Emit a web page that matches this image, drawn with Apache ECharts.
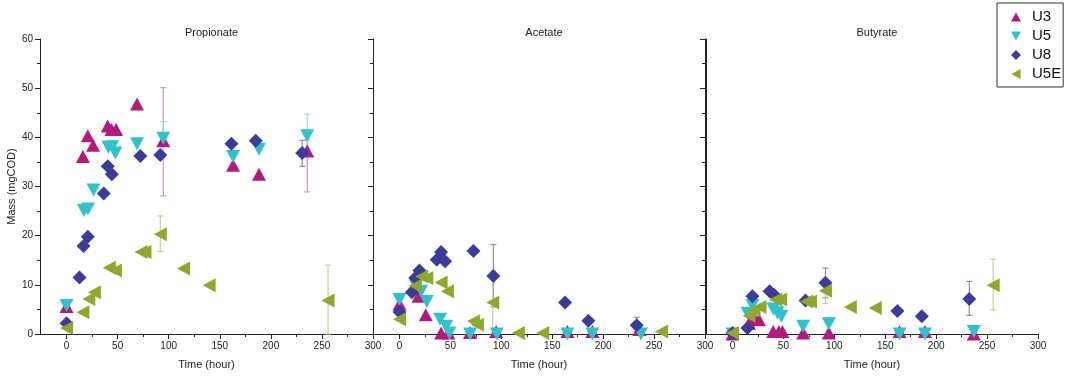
<!DOCTYPE html>
<html><head><meta charset="utf-8">
<script src="https://cdn.jsdelivr.net/npm/echarts@6/dist/echarts.min.js"></script>
<style>html,body{margin:0;padding:0;background:#fff}#c{width:1069px;height:378px}</style>
</head><body><div id="c"></div>
<script>
const panelTitles = ['Propionate', 'Acetate', 'Butyrate'];
const seriesNames = ['U3', 'U5', 'U8', 'U5E'];
const xTickValues = [0, 50, 100, 150, 200, 250, 300];
const xMinorValues = [25, 75, 125, 175, 225, 275];
const xAxisTitle = 'Time (hour)';
const yAxisTitle = 'Mass (mgCOD)';

// Propionate
const propU3 = [[0,5.6],[16,36.1],[20.8,40.3],[26,38.4],[40.3,42.3],[44,41.6],[48.5,41.6],[69,46.8],[94.7,39.3],[163,34.3],[188.4,32.5],[235.6,37.2]];
const propU5 = [[0,5.8],[17,25.1],[21,25.4],[26.4,29.3],[41,38.0],[44.6,38.1],[47.8,36.8],[69,38.7],[94.7,39.8],[163,36.1],[188.4,37.6],[235.6,40.3]];
const propU8 = [[0,2.2],[12.7,11.5],[16.6,17.9],[20.8,19.8],[36.4,28.6],[40.3,34.1],[44.3,32.5],[72.2,36.2],[91.8,36.4],[161.4,38.7],[185.2,39.3],[230.7,36.8]];
const propU5E = [[0,1.2],[16,4.4],[21.8,7.1],[27.3,8.5],[41.9,13.5],[47.8,12.9],[72.9,16.7],[76.8,16.7],[91.8,20.3],[114.5,13.3],[139.6,9.9],[256,6.8]];
// Acetate
const aceU3 = [[0,6.1],[18.6,7.7],[25.8,3.9],[40.9,0.2],[48,0.2],[69.3,0.3],[94.9,0.5],[164.9,0.5],[189.4,0.5],[235.6,0.9]];
const aceU5 = [[0,7.0],[16.4,9.7],[21.3,8.7],[26.8,6.6],[39.9,3.0],[45.8,1.6],[49,0.2],[69.3,0],[95.5,0],[164.9,0],[189.4,0],[237.1,0]];
const aceU8 = [[0,4.5],[12.1,8.5],[15.4,11.4],[19.6,12.9],[36.6,15.1],[40.9,16.7],[44.8,14.8],[72.6,16.9],[92.2,11.8],[162.6,6.4],[185.5,2.7],[232.9,1.8]];
const aceU5E = [[0,3.0],[15.4,9.8],[21.9,11.7],[26.8,11.4],[40.9,10.5],[47.1,8.7],[72.6,2.6],[76.5,1.9],[91.6,6.4],[116.8,0.2],[140.7,0.2],[257.4,0.5]];
// Butyrate
const butU3 = [[0,0],[16.3,2.2],[22,3.0],[26,2.9],[40,0.5],[45.6,0.5],[49,0.5],[69.4,0.2],[94.6,0.2],[164,0.5],[189,0.5],[237,0]];
const butU5 = [[0,0],[14.7,4.2],[19.6,5.8],[40.1,5.1],[44,4.3],[48,3.6],[69.4,1.6],[94.6,2.1],[164,0],[189,0],[237,0.5]];
const butU8 = [[0,0.2],[14.7,1.2],[19.6,7.7],[36.5,8.7],[40.8,8.0],[71.7,6.8],[91.3,10.4],[162,4.7],[185.9,3.6],[232.5,7.1]];
const butU5E = [[0,0.2],[16.3,3.7],[21.2,4.9],[27,5.5],[42.4,7.0],[47.3,7.0],[72.7,6.6],[76.6,6.6],[91.3,8.8],[115.7,5.5],[140.2,5.3],[256,9.9]];

// error bars: [panel, seriesIndex, x, low, high]
const errorBars = [
  [0,0,94.7,28.1,50.1],[0,1,94.7,36.5,43.2],[0,0,235.6,28.9,39.5],[0,1,235.6,37.0,44.7],[0,2,230.7,34.1,39.4],
  [0,3,91.8,16.8,24.0],[0,3,256,0,14.0],[0,0,0,5.0,6.8],[0,1,0,5.0,7.0],
  [1,2,92.2,5.5,18.2],[1,3,91.6,0,12.8],[1,2,232.9,0.5,3.4],
  [2,2,91.3,7.4,13.4],[2,3,91.3,6.2,11.0],[2,1,94.6,1.0,3.3],[2,2,232.5,3.8,10.7],[2,3,256,4.9,15.2]
];

const panelData = [
  [propU3, propU5, propU8, propU5E],
  [aceU3, aceU5, aceU8, aceU5E],
  [butU3, butU5, butU8, butU5E]
];

const colors = ['#B5197E', '#2EC3CC', '#3B3B9C', '#8FA82B'];
const errColors = ['#D98FC0', '#8FDCE2', '#8C8CC4', '#C7D38C'];
const symbols = ['path://M5,0L10,9L0,9Z', 'path://M0,0L10,0L5,9Z', 'diamond', 'path://M0,5L9,0L9,10Z'];
const sizes = [[14, 13], [14, 13], 14, [13, 14]];

const gridLefts = [40, 373, 706];
const gridWidths = [333, 332, 332];
const XMIN = -26, XMAX = 300;

const chart = echarts.init(document.getElementById('c'));
const grids = [], xAxes = [], yAxes = [], series = [], titles = [];
const FONT = 'Liberation Sans, Arial, sans-serif';
const labelFont = {fontFamily: FONT, fontSize: 10, color: '#222'};

for (let p = 0; p < 3; p++) {
  grids.push({left: gridLefts[p], width: gridWidths[p], top: 39, height: 295, containLabel: false});
  titles.push({text: panelTitles[p], left: gridLefts[p] + gridWidths[p] / 2, top: 22, textAlign: 'center',
    textStyle: {fontFamily: FONT, fontSize: 11, fontWeight: 'normal', color: '#222'}});
  xAxes.push({type: 'value', gridIndex: p, min: XMIN, max: XMAX, position: 'bottom',
    axisLine: {show: true, onZero: false, lineStyle: {color: '#222', width: 1}},
    axisTick: {show: true, length: 5, customValues: xTickValues, lineStyle: {color: '#222'}},
    axisLabel: {show: true, customValues: xTickValues, margin: 7, ...labelFont},
    splitLine: {show: false},
    name: xAxisTitle, nameLocation: 'middle', nameGap: 25,
    nameTextStyle: {fontFamily: FONT, fontSize: 11, color: '#222'}});
  xAxes.push({type: 'value', gridIndex: p, min: XMIN, max: XMAX, position: 'bottom',
    axisLine: {show: false, onZero: false},
    axisTick: {show: true, length: 3, customValues: xMinorValues, lineStyle: {color: '#222'}},
    axisLabel: {show: false}, splitLine: {show: false}});
  yAxes.push({type: 'value', gridIndex: p, min: 0, max: 60, interval: 10, position: 'left',
    axisLine: {show: true, onZero: false, lineStyle: {color: '#222', width: 1}},
    axisTick: {show: true, length: 5, lineStyle: {color: '#222'}},
    minorTick: {show: true, splitNumber: 2, length: 3, lineStyle: {color: '#222'}},
    axisLabel: {show: p === 0, margin: 7, ...labelFont},
    splitLine: {show: false},
    name: p === 0 ? yAxisTitle : '', nameLocation: 'middle', nameGap: 23, nameRotate: 90,
    nameTextStyle: {fontFamily: FONT, fontSize: 11, color: '#222'}});
}
for (let p = 0; p < 2; p++) {
  yAxes.push({type: 'value', gridIndex: p, min: 0, max: 60, interval: 10, position: 'right',
    axisLine: {show: true, onZero: false, lineStyle: {color: '#222', width: 1}},
    axisTick: {show: true, inside: true, length: 5, lineStyle: {color: '#222'}},
    minorTick: {show: true, splitNumber: 2, length: 3, lineStyle: {color: '#222'}},
    axisLabel: {show: false}, splitLine: {show: false}});
}

for (let p = 0; p < 3; p++) {
  const eb = errorBars.filter(e => e[0] === p).map(e => [e[2], e[3], e[4], e[1]]);
  series.push({type: 'custom', xAxisIndex: p * 2, yAxisIndex: p, z: 1, silent: true,
    data: eb,
    renderItem: function (params, api) {
      const x = api.value(0), lo = api.value(1), hi = api.value(2), si = api.value(3);
      const pLo = api.coord([x, lo]), pHi = api.coord([x, hi]);
      const c = errColors[si];
      const w = 3;
      return {type: 'group', children: [
        {type: 'line', shape: {x1: pLo[0], y1: pLo[1], x2: pHi[0], y2: pHi[1]}, style: {stroke: c, lineWidth: 1.2}},
        {type: 'line', shape: {x1: pHi[0] - w, y1: pHi[1], x2: pHi[0] + w, y2: pHi[1]}, style: {stroke: c, lineWidth: 1.2}},
        {type: 'line', shape: {x1: pLo[0] - w, y1: pLo[1], x2: pLo[0] + w, y2: pLo[1]}, style: {stroke: c, lineWidth: 1.2}}
      ]};
    }});
  for (let s = 0; s < 4; s++) {
    series.push({type: 'scatter', name: seriesNames[s], xAxisIndex: p * 2, yAxisIndex: p, z: 3,
      data: panelData[p][s], symbol: symbols[s], symbolSize: sizes[s],
      itemStyle: {color: colors[s], opacity: 1}, silent: true, clip: false});
  }
}

chart.setOption({
  animation: false,
  backgroundColor: '#fff',
  title: titles,
  grid: grids,
  xAxis: xAxes,
  yAxis: yAxes,
  legend: {
    data: seriesNames.map((n, i) => ({name: n, icon: symbols[i]})),
    orient: 'vertical', left: 997, top: 3,
    backgroundColor: '#fff', borderColor: '#333', borderWidth: 1, padding: [6, 2, 5, 14],
    itemWidth: 10, itemHeight: 10, itemGap: 3,
    textStyle: {fontFamily: FONT, fontSize: 15, color: '#111', padding: [0, 0, 0, 6], lineHeight: 16}
  },
  series: series
});
</script></body></html>
